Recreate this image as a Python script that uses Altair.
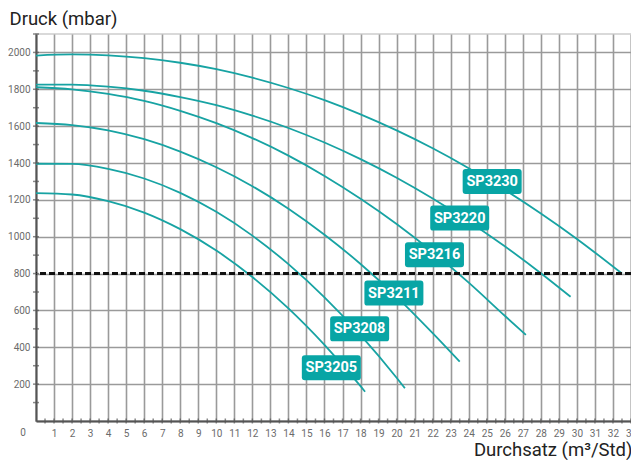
import altair as alt
import pandas as pd

# ---- data ----
pumps = ["SP3230", "SP3220", "SP3216", "SP3211", "SP3208", "SP3205"]

flow_sp3230 = [0, 2, 4, 6, 8, 10, 12, 14, 16, 18, 20, 22, 24, 26, 28, 30, 32.5]
pres_sp3230 = [1983, 1989, 1984, 1969, 1944, 1909, 1863, 1807, 1741, 1664, 1577, 1480, 1372, 1254, 1126, 988, 800]

flow_sp3220 = [0, 2, 4, 6, 8, 10, 12, 14, 16, 18, 20, 22, 24, 26, 28, 29.65]
pres_sp3220 = [1825, 1825, 1814, 1792, 1758, 1714, 1657, 1590, 1511, 1421, 1320, 1207, 1083, 948, 802, 674]

flow_sp3216 = [0, 2, 4, 6, 8, 10, 12, 14, 16, 18, 20, 22, 24, 26, 27.17]
pres_sp3216 = [1811, 1800, 1775, 1737, 1683, 1616, 1535, 1440, 1330, 1206, 1069, 917, 751, 571, 467]

flow_sp3211 = [0, 2, 4, 6, 8, 10, 12, 14, 16, 18, 20, 22, 23.5]
pres_sp3211 = [1617, 1606, 1577, 1529, 1462, 1377, 1274, 1152, 1011, 852, 674, 477, 322]

flow_sp3208 = [0, 2, 4, 6, 8, 10, 12, 14, 16, 18, 20, 20.46]
pres_sp3208 = [1396, 1395, 1368, 1316, 1238, 1135, 1006, 851, 671, 466, 235, 178]

flow_sp3205 = [0, 2, 4, 6, 8, 10, 12, 14, 16, 18, 18.25]
pres_sp3205 = [1237, 1229, 1193, 1131, 1041, 925, 781, 611, 413, 189, 159]

label_x = [25.3, 23.5, 22.1, 19.85, 17.95, 16.38]
label_y = [1300, 1101, 902, 694, 500, 289]

limit_pressure = [800]

x_ticks = list(range(0, 34))
y_ticks = list(range(0, 2001, 200))
x_minor = [i / 2 for i in range(1, 67)]
y_minor = list(range(100, 2101, 100))

# ---- build tables ----
series = [
    (pumps[0], flow_sp3230, pres_sp3230),
    (pumps[1], flow_sp3220, pres_sp3220),
    (pumps[2], flow_sp3216, pres_sp3216),
    (pumps[3], flow_sp3211, pres_sp3211),
    (pumps[4], flow_sp3208, pres_sp3208),
    (pumps[5], flow_sp3205, pres_sp3205),
]
rows = []
for name, fl, pr in series:
    for f, p in zip(fl, pr):
        rows.append({"pump": name, "flow": f, "pressure": p})
curves = pd.DataFrame(rows)
labels = pd.DataFrame({"pump": pumps, "flow": label_x, "pressure": label_y})
limit_df = pd.DataFrame({"pressure": limit_pressure})
xt_df = pd.DataFrame({"flow": x_minor, "pressure": [0] * len(x_minor)})
yt_df = pd.DataFrame({"flow": [0] * len(y_minor), "pressure": y_minor})
zero_df = pd.DataFrame({"flow": [0], "pressure": [0], "t": ["0"]})

FONT = "Roboto"
TEAL_LINE = "#17a3a3"
TEAL_BOX = "#08a5a5"

xscale = alt.Scale(domain=[0, 33], nice=False, zero=False)
yscale = alt.Scale(domain=[0, 2100], nice=False, zero=False)

xaxis = alt.Axis(
    values=x_ticks, format="d", labelExpr="datum.value == 0 ? '' : datum.label",
    grid=True, gridColor="#9a9a9a", gridWidth=1.6, ticks=False,
    domainColor="#555555", domainWidth=2,
    labelFont=FONT, labelFontSize=10, labelColor="#6b6b6b", labelPadding=7,
    labelFlush=False, labelOverlap=False,
    title="Durchsatz (m³/Std)", titleFont=FONT, titleFontSize=18.5,
    titleFontWeight="normal", titleColor="#222222",
    titleAlign="right", titleAnchor="end", titleBaseline="alphabetic",
    titleX=596, titleY=34,
)
yaxis = alt.Axis(
    values=y_ticks, format="d", labelExpr="datum.value == 0 ? '' : datum.label",
    grid=True, gridColor="#9a9a9a", gridWidth=1.6, ticks=False,
    domainColor="#555555", domainWidth=2,
    labelFont=FONT, labelFontSize=10, labelColor="#6b6b6b", labelPadding=6,
    labelFlush=False, labelOverlap=False,
    title="Druck (mbar)", titleFont=FONT, titleFontSize=18.5,
    titleFontWeight="normal", titleColor="#222222", titleAngle=0,
    titleAlign="left", titleAnchor="start", titleBaseline="alphabetic",
    titleX=-27, titleY=-10,
)

X = alt.X("flow:Q", scale=xscale, axis=xaxis)
Y = alt.Y("pressure:Q", scale=yscale, axis=yaxis)

lines = alt.Chart(curves).mark_line(
    color=TEAL_LINE, strokeWidth=1.8, interpolate="monotone"
).encode(x=X, y=Y, detail="pump:N")

limit = alt.Chart(limit_df).mark_rule(
    color="#111111", strokeWidth=3, strokeDash=[6, 3]
).encode(y=Y)

xt = alt.Chart(xt_df).mark_tick(
    orient="vertical", size=5, thickness=1.5, color="#555555"
).encode(x=X, y=Y)
yt = alt.Chart(yt_df).mark_tick(
    orient="horizontal", size=6, thickness=1.5, color="#555555"
).encode(x=X, y=Y)

zero_lbl = alt.Chart(zero_df).mark_text(
    font=FONT, fontSize=10, color="#6b6b6b", dx=-13, dy=12, baseline="middle"
).encode(x=X, y=Y, text="t:N")

box_path = ("M-0.9,-0.424 L0.9,-0.424 Q1,-0.424 1,-0.324 L1,0.324 Q1,0.424 0.9,0.424 "
            "L-0.9,0.424 Q-1,0.424 -1,0.324 L-1,-0.324 Q-1,-0.424 -0.9,-0.424 Z")
boxes = alt.Chart(labels).mark_point(
    shape=box_path, size=59 * 59, filled=True, opacity=1, color=TEAL_BOX, strokeWidth=0
).encode(x=X, y=Y)
texts = alt.Chart(labels).mark_text(
    font=FONT, fontSize=14.5, fontWeight="bold", color="white",
    align="center", baseline="middle", dy=0.5
).encode(x=X, y=Y, text="pump:N")

chart = alt.layer(lines, limit, xt, yt, zero_lbl, boxes, texts).properties(
    width=595, height=387,
    autosize=alt.AutoSizeParams(type="none"),
    padding={"left": 28, "top": 26, "right": 0, "bottom": 39},
    background="white",
).configure_view(stroke="#d9d9d9", strokeWidth=2)

chart.save("out.html", embed_options={"renderer": "svg", "actions": False})
